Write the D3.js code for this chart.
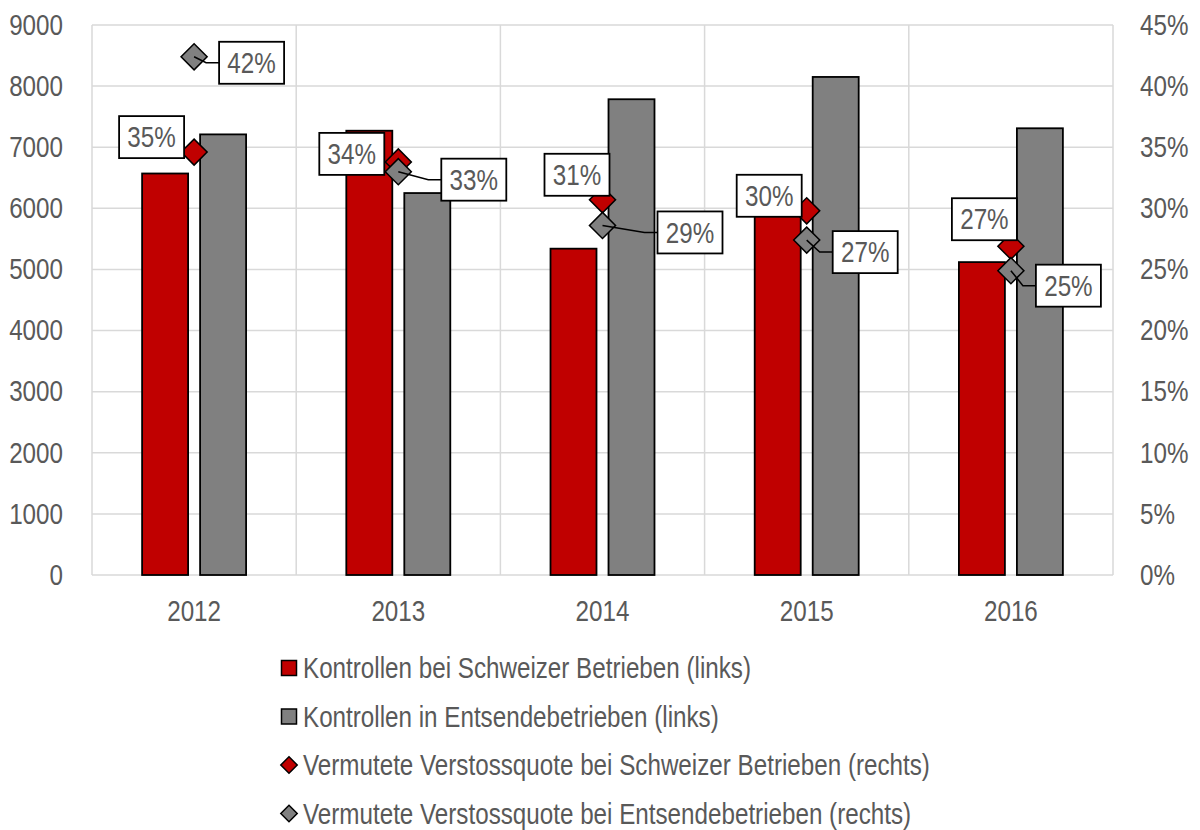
<!DOCTYPE html>
<html lang="de">
<head>
<meta charset="UTF-8">
<title>Kontrollen und Verstossquoten</title>
<script src="https://cdn.jsdelivr.net/npm/d3@7"></script>
<style>
    body { margin: 0; background: #fff; }
    svg text {
        font-family: "Liberation Sans", Arial, sans-serif;
        font-size: 29px;
        fill: #595959;
    }
    .grid line { stroke: #d9d9d9; stroke-width: 1.5; }
</style>
</head>
<body>
<svg width="1200" height="830"></svg>
<script>
// data
var years = ["2012", "2013", "2014", "2015", "2016"];
var swissControls = [6570, 7270, 5340, 5900, 5120];
var postedControls = [7210, 6250, 7785, 8150, 7310];
var swissRate = [0.346, 0.338, 0.307, 0.298, 0.269];
var postedRate = [0.424, 0.330, 0.286, 0.274, 0.249];
var leftTicks = [0, 1000, 2000, 3000, 4000, 5000, 6000, 7000, 8000, 9000];
var rightTicks = [0, 0.05, 0.10, 0.15, 0.20, 0.25, 0.30, 0.35, 0.40, 0.45];
var legendLabels = [
    "Kontrollen bei Schweizer Betrieben (links)",
    "Kontrollen in Entsendebetrieben (links)",
    "Vermutete Verstossquote bei Schweizer Betrieben (rechts)",
    "Vermutete Verstossquote bei Entsendebetrieben (rechts)"
];

// where each label box sits relative to its marker (box left / top)
var swissLabelShift = [[-75, -36], [-79, -29], [-58, -46], [-70, -36], [-59, -48]];
var postedLabelShift = [[25, -15], [43, -13], [55, -14], [26, -9], [25, -6]];

var red = "#c00000", grey = "#808080";
var narrow = 0.835; // no Arial Narrow here, squeeze Liberation Sans instead

var svg = d3.select("svg");
var pLeft = 92, pRight = 1113, pTop = 25, pBottom = 575;

var x = d3.scaleBand().domain(years).range([pLeft, pRight]);
var xs = d3.scaleBand().domain(["swiss", "posted"]).range([0, x.bandwidth()])
    .paddingInner(0.207).paddingOuter(0.864);
var y = d3.scaleLinear().domain([0, 9000]).range([pBottom, pTop]);
var y2 = d3.scaleLinear().domain([0, 0.45]).range([pBottom, pTop]);

// grid
var grid = svg.append("g").attr("class", "grid");
grid.selectAll(".h").data(leftTicks).enter().append("line")
    .attr("x1", pLeft).attr("x2", pRight)
    .attr("y1", function(d) { return y(d); })
    .attr("y2", function(d) { return y(d); });
var edges = years.map(function(d) { return x(d); }).concat([pRight]);
grid.selectAll(".v").data(edges).enter().append("line")
    .attr("y1", pTop).attr("y2", pBottom)
    .attr("x1", function(d) { return d; })
    .attr("x2", function(d) { return d; });

// axes
var ax = svg.append("g").attr("transform", "translate(" + pLeft + ",0)")
    .call(d3.axisLeft(y).tickValues(leftTicks).tickSize(0).tickPadding(29).tickFormat(d3.format("d")));
var ax2 = svg.append("g").attr("transform", "translate(" + pRight + ",0)")
    .call(d3.axisRight(y2).tickValues(rightTicks).tickSize(0).tickPadding(27).tickFormat(d3.format(".0%")));
var axb = svg.append("g").attr("transform", "translate(0," + pBottom + ")")
    .call(d3.axisBottom(x).tickSize(0).tickPadding(25));
[ax, ax2, axb].forEach(function(a) {
    a.select(".domain").remove();
    a.attr("font-family", null).attr("font-size", null);
    a.selectAll("text").attr("fill", "#595959");
});

// bars
var barData = [];
years.forEach(function(yr, i) {
    barData.push({ year: yr, key: "swiss", v: swissControls[i] });
    barData.push({ year: yr, key: "posted", v: postedControls[i] });
});
svg.append("g").selectAll("rect").data(barData).enter().append("rect")
    .attr("x", function(d) { return x(d.year) + xs(d.key); })
    .attr("y", function(d) { return y(d.v); })
    .attr("width", xs.bandwidth())
    .attr("height", function(d) { return pBottom - y(d.v); })
    .attr("fill", function(d) { return d.key == "swiss" ? red : grey; })
    .attr("stroke", "#000").attr("stroke-width", 1.8);

// diamonds
var diamond = d3.symbol().type(d3.symbolSquare).size(340);
function cx(yr) { return x(yr) + x.bandwidth() / 2; }

function markers(values, color) {
    svg.append("g").selectAll("path").data(values).enter().append("path")
        .attr("d", diamond)
        .attr("transform", function(d, i) { return "translate(" + cx(years[i]) + "," + y2(d) + ") rotate(45)"; })
        .attr("fill", color).attr("stroke", "#000").attr("stroke-width", 1.5);
}
markers(swissRate, red);
markers(postedRate, grey);

// data labels
var fmt = d3.format(".0%");
var boxW = 65, boxH = 42;
function labels(values, shift, leader) {
    var g = svg.append("g");
    values.forEach(function(v, i) {
        var px = cx(years[i]), py = y2(v);
        var bx = px + shift[i][0], by = py + shift[i][1];
        if (leader) {
            var cy = by + boxH / 2;
            g.append("path")
                .attr("d", d3.line()([[px, py], [bx - 13, cy], [bx, cy]]))
                .attr("fill", "none").attr("stroke", "#000").attr("stroke-width", 1.5);
        }
        g.append("rect").attr("x", bx).attr("y", by).attr("width", boxW).attr("height", boxH)
            .attr("fill", "#fff").attr("stroke", "#000").attr("stroke-width", 1.8);
        g.append("text").attr("x", bx + boxW / 2).attr("y", by + boxH / 2)
            .attr("text-anchor", "middle").attr("dy", "0.35em")
            .text(fmt(v));
    });
}
labels(postedRate, postedLabelShift, true);
labels(swissRate, swissLabelShift, false);

// legend
var legend = svg.append("g").selectAll("g").data(legendLabels).enter().append("g")
    .attr("transform", function(d, i) { return "translate(289," + (668 + i * 48.5) + ")"; });
legend.each(function(d, i) {
    var g = d3.select(this);
    var fill = (i % 2 == 0) ? red : grey;
    if (i < 2) {
        g.append("rect").attr("x", -7.5).attr("y", -7.5).attr("width", 15).attr("height", 15)
            .attr("fill", fill).attr("stroke", "#000").attr("stroke-width", 1.5);
    } else {
        g.append("path").attr("d", d3.symbol().type(d3.symbolSquare).size(135))
            .attr("transform", "rotate(45)")
            .attr("fill", fill).attr("stroke", "#000").attr("stroke-width", 1.5);
    }
    g.append("text").attr("x", 14).attr("dy", "0.35em").text(d);
});

// condensed look
svg.selectAll("text").each(function() {
    var t = d3.select(this);
    var xv = +t.attr("x") || 0;
    t.attr("x", xv / narrow).attr("transform", "scale(" + narrow + ",1)");
});
</script>
</body>
</html>
